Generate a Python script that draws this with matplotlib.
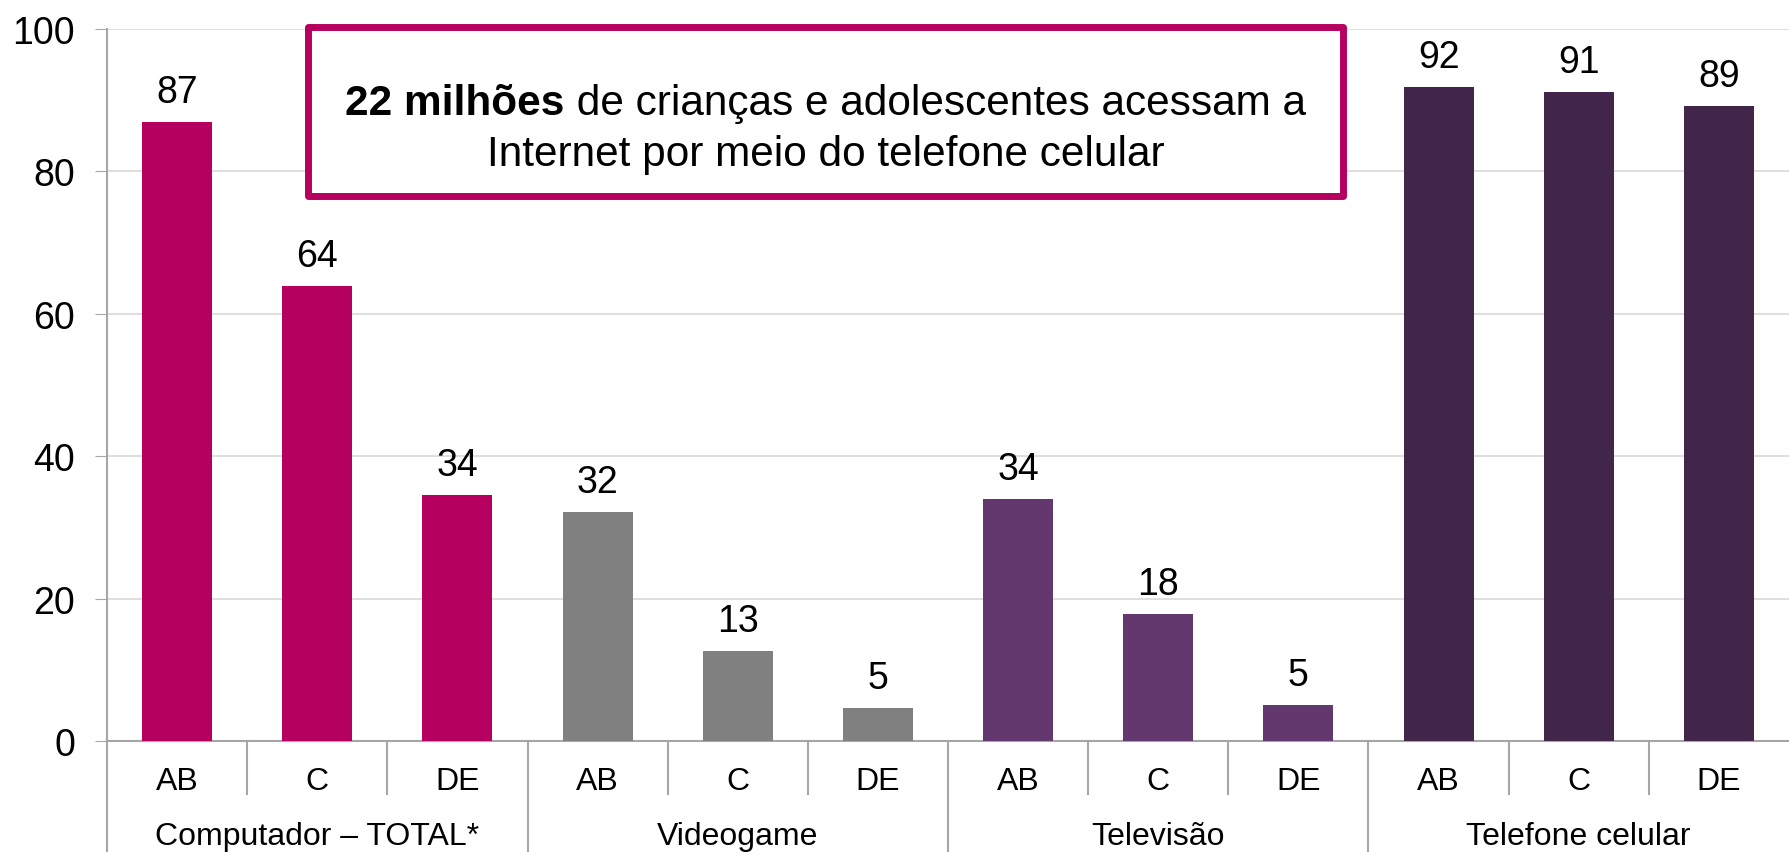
import numpy as np
import matplotlib
matplotlib.use("Agg")
import matplotlib.pyplot as plt
import matplotlib.transforms as mtransforms
from matplotlib.patches import Rectangle

plt.rcParams["font.family"] = ["Liberation Sans", "DejaVu Sans"]

# ── Data ────────────────────────────────────────────────────────────────────────
groups = ["Computador – TOTAL*", "Videogame", "Televisão", "Telefone celular"]
classes = ["AB", "C", "DE"]
heights = [87.0, 63.9, 34.5, 32.1, 12.7, 4.7, 34.0, 17.8, 5.0, 91.8, 91.2, 89.2]
labels = [87, 64, 34, 32, 13, 5, 34, 18, 5, 92, 91, 89]
group_colors = ["#B5005F", "#808080", "#62386E", "#42264A"]

box_bold = "22 milhões"
box_rest = " de crianças e adolescentes acessam a"
box_line2 = "Internet por meio do telefone celular"

# ── Figure ──────────────────────────────────────────────────────────────────────
W, H = 1789, 853
fig = plt.figure(figsize=(W / 100, H / 100), dpi=100)
ax = fig.add_axes([107 / W, 1 - 742 / H, 1 - 107 / W, (742 - 30) / H])

x = np.arange(len(heights))
colors = [group_colors[i // 3] for i in range(len(heights))]
ax.bar(x, heights, width=0.5, color=colors, zorder=3)

for xi, h, lab in zip(x, heights, labels):
    ax.annotate(str(lab), (xi, h), xytext=(0, 12), textcoords="offset pixels",
                ha="center", va="bottom", fontsize=27)

ax.set_xlim(-0.5, len(heights) - 0.5)
ax.set_ylim(0, 100)
ax.set_yticks(range(0, 101, 20))
ax.tick_params(axis="y", labelsize=27, length=9, color="#A6A6A6", pad=14)
ax.set_xticks([])
ax.grid(axis="y", color="#D9D9D9", linewidth=1.2, zorder=0)
for s in ["top", "right"]:
    ax.spines[s].set_visible(False)
for s in ["left", "bottom"]:
    ax.spines[s].set_color("#A6A6A6")
    ax.spines[s].set_linewidth(1.5)

# multi-level category axis
trans = mtransforms.blended_transform_factory(ax.transData, fig.transFigure)
y_axis0 = 1 - 742 / H
for i in range(len(heights)):
    xb = i - 0.5
    ybot = 0 if i % 3 == 0 else 1 - 795 / H
    ax.plot([xb, xb], [y_axis0, ybot], transform=trans, color="#A6A6A6",
            linewidth=1.5, clip_on=False)
for i, xi in enumerate(x):
    ax.text(xi, 1 - 790 / H, classes[i % 3], transform=trans, ha="center",
            va="baseline", fontsize=23)
for g, name in enumerate(groups):
    ax.text(3 * g + 1, 1 - 845 / H, name, transform=trans, ha="center",
            va="baseline", fontsize=23)

# highlight box
bx0, by0, bx1, by1 = 308, 28, 1343, 197
fig.patches.append(Rectangle((bx0 / W, 1 - by1 / H), (bx1 - bx0) / W, (by1 - by0) / H,
                             transform=fig.transFigure, facecolor="white",
                             edgecolor="#B5005F", linewidth=5, joinstyle="round",
                             zorder=5))
cx = (bx0 + bx1) / 2 / W
fs_box = 30.5
t1 = fig.text(0, 1 - 104 / H, box_bold, fontsize=fs_box, fontweight="bold",
              va="center", ha="left", zorder=6)
t2 = fig.text(0, 1 - 104 / H, box_rest, fontsize=fs_box, va="center", ha="left",
              zorder=6)
fig.canvas.draw()
r = fig.canvas.get_renderer()
w1 = t1.get_window_extent(r).width / W
w2 = t2.get_window_extent(r).width / W
start = cx - (w1 + w2) / 2
t1.set_x(start)
t2.set_x(start + w1)
fig.text(cx, 1 - 155 / H, box_line2, fontsize=fs_box, va="center", ha="center",
         zorder=6)

fig.savefig("out.png", dpi=100)
